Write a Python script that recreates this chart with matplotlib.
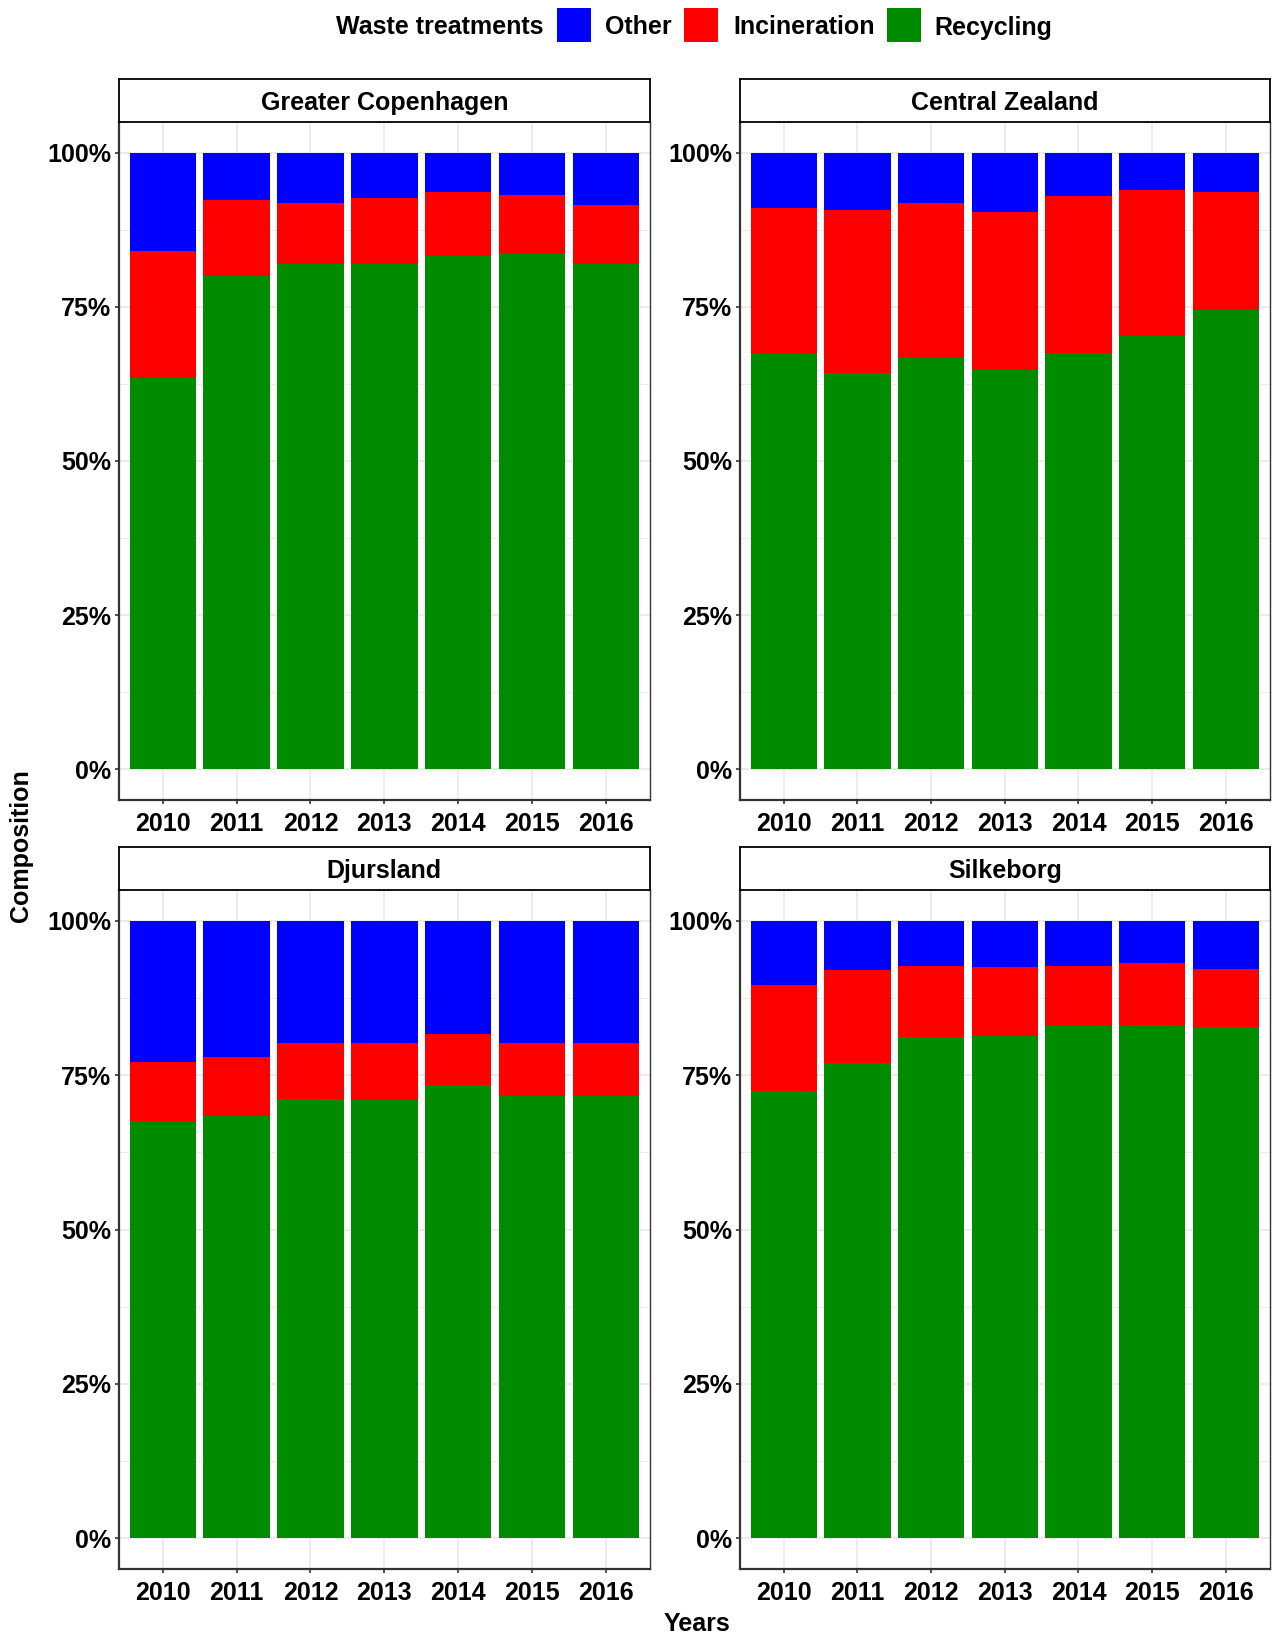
import matplotlib
matplotlib.use("Agg")
import matplotlib.pyplot as plt
from matplotlib.patches import Rectangle
from matplotlib.ticker import FixedLocator, FuncFormatter
import numpy as np

plt.rcParams['font.family'] = ['Liberation Sans', 'DejaVu Sans']
plt.rcParams['font.weight'] = 'bold'

# ---- data (percent shares of each waste treatment) ----
years = [2010, 2011, 2012, 2013, 2014, 2015, 2016]
regions = ["Greater Copenhagen", "Central Zealand", "Djursland", "Silkeborg"]
treatments = ["Other", "Incineration", "Recycling"]

recycling_copenhagen = [63.4, 80.0, 81.9, 82.0, 83.2, 83.6, 82.0]
incineration_copenhagen = [20.7, 12.4, 10.0, 10.7, 10.4, 9.6, 9.6]
other_copenhagen = [15.9, 7.6, 8.1, 7.3, 6.4, 6.8, 8.4]

recycling_zealand = [67.3, 64.3, 66.7, 64.8, 67.6, 70.3, 74.5]
incineration_zealand = [23.8, 26.4, 25.2, 25.6, 25.4, 23.7, 19.1]
other_zealand = [8.9, 9.3, 8.1, 9.6, 7.0, 6.0, 6.4]

recycling_djursland = [67.5, 68.4, 71.1, 71.0, 73.4, 71.6, 71.6]
incineration_djursland = [9.7, 9.6, 9.1, 9.2, 8.3, 8.6, 8.6]
other_djursland = [22.8, 22.0, 19.8, 19.8, 18.3, 19.8, 19.8]

recycling_silkeborg = [72.4, 76.9, 81.2, 81.4, 83.0, 83.1, 82.8]
incineration_silkeborg = [17.2, 15.2, 11.5, 11.1, 9.7, 10.0, 9.4]
other_silkeborg = [10.4, 7.9, 7.3, 7.5, 7.3, 6.9, 7.8]

y_ticks = [0, 25, 50, 75, 100]

series_by_region = {
    "Greater Copenhagen": (recycling_copenhagen, incineration_copenhagen, other_copenhagen),
    "Central Zealand": (recycling_zealand, incineration_zealand, other_zealand),
    "Djursland": (recycling_djursland, incineration_djursland, other_djursland),
    "Silkeborg": (recycling_silkeborg, incineration_silkeborg, other_silkeborg),
}

colors = {"Other": "#0000FF", "Incineration": "#FF0000", "Recycling": "#008B00"}

# ---- figure layout in pixels ----
W, H = 1274, 1636
fig = plt.figure(figsize=(W / 100, H / 100), dpi=100)


def fig_rect(left, top, right, bottom):
    return [left / W, 1 - bottom / H, (right - left) / W, (bottom - top) / H]


panel_boxes = [
    (118.6, 122, 650, 800),
    (739.6, 122, 1270, 800),
    (118.6, 890, 650, 1569),
    (739.6, 890, 1270, 1569),
]
strip_h = 43.5
FS = 18
grid_col = "#EBEBEB"
axis_col = "#333333"

x = np.arange(1, len(years) + 1)

for region, (l, t, r, b) in zip(regions, panel_boxes):
    ax = fig.add_axes(fig_rect(l, t, r, b))
    rec, inc, oth = [np.asarray(v, dtype=float) for v in series_by_region[region]]
    total = rec + inc + oth
    rec_p, inc_p, oth_p = rec / total, inc / total, oth / total

    ax.bar(x, rec_p, width=0.9, color=colors["Recycling"], zorder=2, linewidth=0)
    ax.bar(x, inc_p, width=0.9, bottom=rec_p, color=colors["Incineration"], zorder=2, linewidth=0)
    ax.bar(x, oth_p, width=0.9, bottom=rec_p + inc_p, color=colors["Other"], zorder=2, linewidth=0)

    ax.set_xlim(0.4, len(years) + 0.6)
    ax.set_ylim(-0.05, 1.05)

    # grid lines
    for yv in np.arange(0, 1.01, 0.25):
        ax.axhline(yv, color=grid_col, lw=1.3, zorder=0)
    for yv in np.arange(0.125, 1.0, 0.25):
        ax.axhline(yv, color=grid_col, lw=0.7, zorder=0)
    for xv in x:
        ax.axvline(xv, color=grid_col, lw=1.3, zorder=0)

    ax.xaxis.set_major_locator(FixedLocator(x))
    ax.set_xticklabels([str(yr) for yr in years])
    ax.yaxis.set_major_locator(FixedLocator([v / 100 for v in y_ticks]))
    ax.yaxis.set_major_formatter(FuncFormatter(lambda v, p: f"{v * 100:.0f}%"))

    ax.tick_params(axis="both", length=3, width=1.2, color=axis_col,
                   labelsize=FS, labelcolor="black")
    ax.tick_params(axis="y", pad=2.5)
    ax.tick_params(axis="x", pad=5.5)
    for lab in ax.get_xticklabels() + ax.get_yticklabels():
        lab.set_fontweight("bold")

    ax.spines["top"].set_visible(False)
    ax.spines["right"].set_color(axis_col)
    ax.spines["right"].set_linewidth(1.0)
    for s in ("left", "bottom"):
        ax.spines[s].set_color(axis_col)
        ax.spines[s].set_linewidth(1.6)

    # facet strip
    sax = fig.add_axes(fig_rect(l, t - strip_h, r, t))
    sax.set_xticks([])
    sax.set_yticks([])
    sax.set_facecolor("white")
    for s in sax.spines.values():
        s.set_color("black")
        s.set_linewidth(1.3)
    sax.text(0.5, 0.44, region, ha="center", va="center", fontsize=FS,
             fontweight="bold", transform=sax.transAxes)

# axis titles
fig.text(21 / W, 1 - 846 / H, "Composition", rotation=90, ha="center", va="center",
         fontsize=FS, fontweight="bold")
fig.text(697 / W, 1 - 1624 / H, "Years", ha="center", va="center",
         fontsize=FS, fontweight="bold")

# legend
fig.text(543 / W, 1 - 34.5 / H, "Waste treatments", ha="right", va="baseline",
         fontsize=FS, fontweight="bold")
key_lefts = [557, 684, 887]
label_lefts = [605, 733, 934]
for name, kl, tl in zip(treatments, key_lefts, label_lefts):
    fig.patches.append(Rectangle((kl / W, 1 - 42 / H), 34 / W, 34 / H,
                                 transform=fig.transFigure, facecolor=colors[name],
                                 edgecolor="none"))
    fig.text(tl / W, 1 - 34.5 / H, name, ha="left", va="baseline",
             fontsize=FS, fontweight="bold")

fig.savefig("out.png", dpi=100, facecolor="white")
